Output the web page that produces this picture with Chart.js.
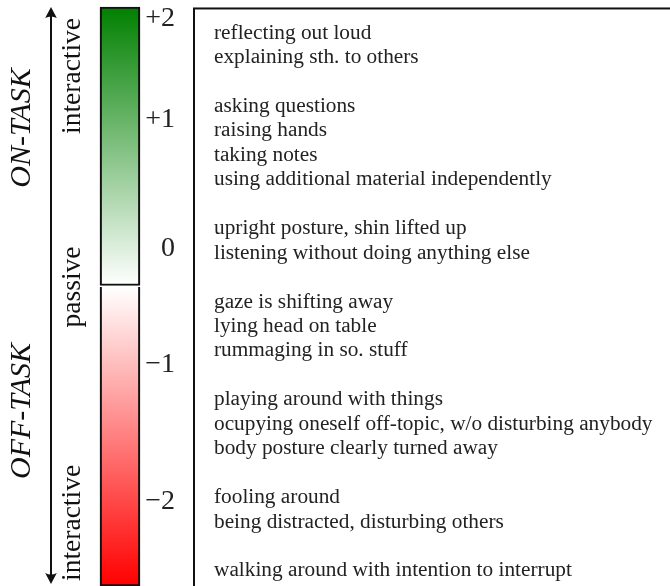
<!DOCTYPE html>
<html><head><meta charset="utf-8">
<script src="https://cdn.jsdelivr.net/npm/chart.js@4"></script>
<style>html,body{margin:0;padding:0;background:#fff;overflow:hidden}#wrap{width:670px;height:586px}</style>
</head><body><div id="wrap"><canvas id="c" width="670" height="586"></canvas></div>
<script>
// ---- data (y values are in "text row" units, row 0 = first behaviour line) ----
const behaviourLines = [
  'reflecting out loud', 'explaining sth. to others', '',
  'asking questions', 'raising hands', 'taking notes', 'using additional material independently', '',
  'upright posture, shin lifted up', 'listening without doing anything else', '',
  'gaze is shifting away', 'lying head on table', 'rummaging in so. stuff', '',
  'playing around with things', 'ocupying oneself off-topic, w/o disturbing anybody', 'body posture clearly turned away', '',
  'fooling around', 'being distracted, disturbing others', '',
  'walking around with intention to interrupt'
];
const scoreLabels = ['+2', '+1', '0', '\u22121', '\u22122'];
const scoreRows = [-0.57, 3.56, 8.83, 13.58, 19.18];
const onTaskRange = [-0.98, 10.41];
const offTaskRange = [10.47, 22.70];
const taskLabels = ['ON-TASK', 'OFF-TASK'];
const taskRows = [3.97, 15.54];
const modeLabels = ['interactive', 'passive', 'interactive'];
const modeRows = [1.84, 10.47, 20.12];
const arrowRange = [-0.98, 22.62];

// ---- layout / style constants ----
const ROW_MIN = -0.98, ROW_MAX = 22.70;
const BAR_X = 120, BAR_W = 40;
const ARROW_X = 51, TASK_X = 22, MODE_X = 73;
const TICK_X = 175, BOX_X = 194, BOX_TOP_ROW = -0.92, TEXT_X = 214;
const TEXT_DY = 2;
const SERIF = '"Liberation Serif", "DejaVu Serif", serif';

function vGradient(c, range, c0, c1) {
  const chart = c.chart;
  if (!chart.chartArea) return c0;
  const ys = chart.scales.y;
  const g = chart.ctx.createLinearGradient(0, ys.getPixelForValue(range[0]), 0, ys.getPixelForValue(range[1]));
  g.addColorStop(0, c0); g.addColorStop(1, c1);
  return g;
}

const diagramPlugin = {
  id: 'diagram',
  afterDatasetsDraw(chart) {
    const ctx = chart.ctx, xs = chart.scales.x, ys = chart.scales.y;
    ctx.save();
    // right box
    ctx.strokeStyle = '#111'; ctx.lineWidth = 2;
    ctx.strokeRect(xs.getPixelForValue(BOX_X), ys.getPixelForValue(BOX_TOP_ROW), 600, 700);
    // behaviour lines
    ctx.fillStyle = '#222';
    ctx.font = '21.3px ' + SERIF;
    ctx.textAlign = 'left'; ctx.textBaseline = 'middle';
    behaviourLines.forEach((t, i) => { if (t) ctx.fillText(t, xs.getPixelForValue(TEXT_X), ys.getPixelForValue(i) + TEXT_DY); });
    // score ticks
    ctx.font = '28px ' + SERIF; ctx.textAlign = 'right';
    scoreLabels.forEach((t, i) => ctx.fillText(t, xs.getPixelForValue(TICK_X), ys.getPixelForValue(scoreRows[i]) + TEXT_DY));
    // arrow
    const ax = xs.getPixelForValue(ARROW_X);
    const yt = ys.getPixelForValue(arrowRange[0]), yb = ys.getPixelForValue(arrowRange[1]);
    ctx.strokeStyle = '#111'; ctx.fillStyle = '#111'; ctx.lineWidth = 2;
    ctx.beginPath(); ctx.moveTo(ax, yt + 7); ctx.lineTo(ax, yb - 7); ctx.stroke();
    const head = (tipY, dir) => {
      ctx.beginPath();
      ctx.moveTo(ax, tipY);
      ctx.lineTo(ax - 5.8, tipY + dir * 11);
      ctx.quadraticCurveTo(ax, tipY + dir * 8, ax + 5.8, tipY + dir * 11);
      ctx.closePath(); ctx.fill();
    };
    head(yt, 1); head(yb, -1);
    // rotated labels
    const rot = (txt, px, py, font) => {
      ctx.save(); ctx.translate(px, py); ctx.rotate(-Math.PI / 2);
      ctx.font = font; ctx.textAlign = 'center'; ctx.textBaseline = 'middle';
      ctx.fillStyle = '#111'; ctx.fillText(txt, 0, 0); ctx.restore();
    };
    taskLabels.forEach((t, i) => rot(t, xs.getPixelForValue(TASK_X), ys.getPixelForValue(taskRows[i]), 'italic 30px ' + SERIF));
    modeLabels.forEach((t, i) => rot(t, xs.getPixelForValue(MODE_X), ys.getPixelForValue(modeRows[i]), '27.5px ' + SERIF));
    ctx.restore();
  }
};

new Chart(document.getElementById('c'), {
  type: 'bar',
  data: {
    datasets: [
      {
        label: 'on-task',
        data: [{ x: BAR_X, y: onTaskRange }],
        backgroundColor: c => vGradient(c, onTaskRange, 'rgb(0,128,0)', 'rgb(255,255,255)'),
        borderColor: '#111', borderWidth: 2.2, borderSkipped: false,
        barThickness: BAR_W, grouped: false, clip: false
      },
      {
        label: 'off-task',
        data: [{ x: BAR_X, y: offTaskRange }],
        backgroundColor: c => vGradient(c, offTaskRange, 'rgb(255,255,255)', 'rgb(255,0,0)'),
        borderColor: '#111', borderWidth: 2.2, borderSkipped: 'bottom',
        barThickness: BAR_W, grouped: false, clip: false
      }
    ]
  },
  options: {
    responsive: false, devicePixelRatio: 1, animation: false,
    layout: { padding: { top: 7, left: 0, right: 0, bottom: 0 } },
    plugins: { legend: { display: false }, tooltip: { enabled: false } },
    scales: {
      x: { type: 'linear', min: 0, max: 670, display: false, offset: false },
      y: { type: 'linear', reverse: true, min: ROW_MIN, max: ROW_MAX, display: false }
    }
  },
  plugins: [diagramPlugin]
});
</script>
</body></html>
